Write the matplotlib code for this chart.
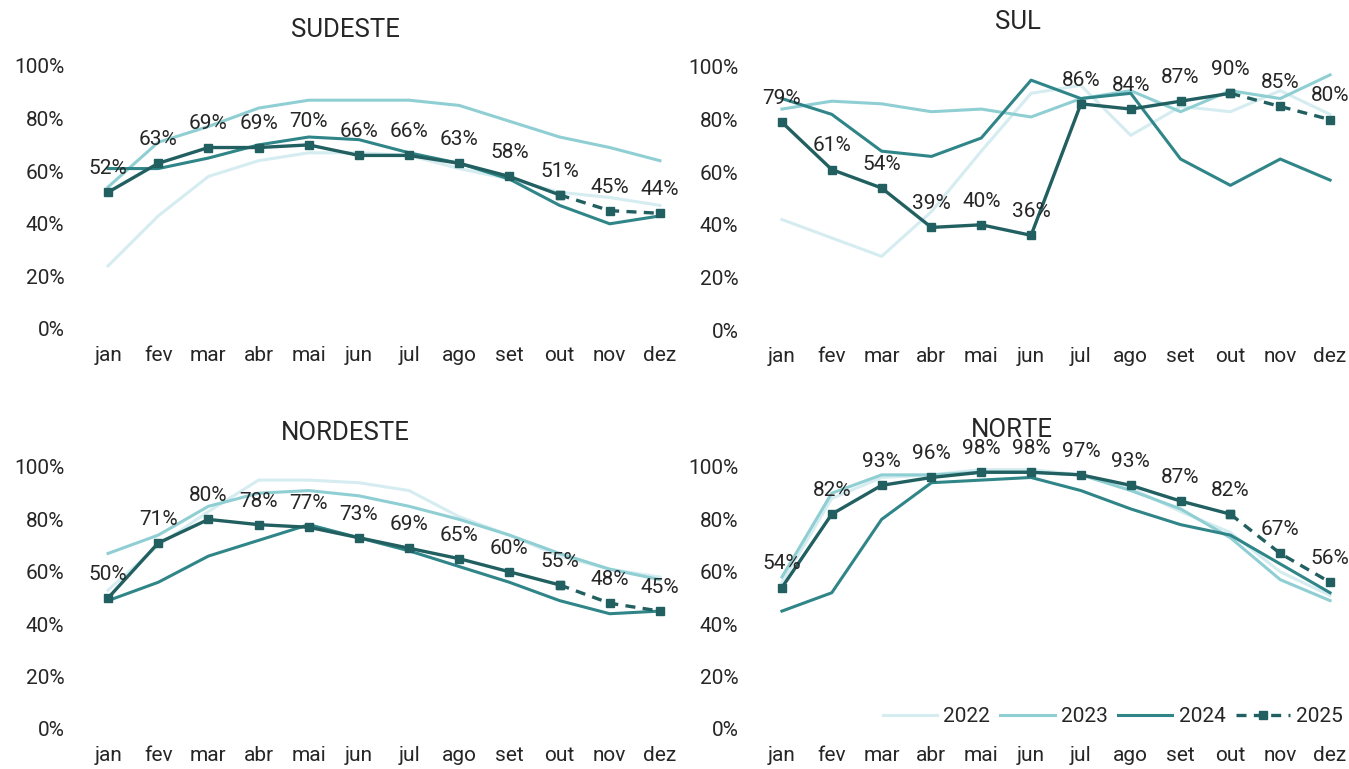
import matplotlib
matplotlib.use("Agg")
import matplotlib.pyplot as plt
from matplotlib.lines import Line2D

plt.rcParams['font.family'] = ['Roboto', 'DejaVu Sans']

months = ['jan', 'fev', 'mar', 'abr', 'mai', 'jun', 'jul', 'ago', 'set', 'out', 'nov', 'dez']
years = ['2022', '2023', '2024', '2025']

# SUDESTE
se_2022 = [24, 43, 58, 64, 67, 67, 66, 61, 57, 52, 50, 47]
se_2023 = [54, 71, 77, 84, 87, 87, 87, 85, 79, 73, 69, 64]
se_2024 = [61, 61, 65, 70, 73, 72, 67, 63, 57, 47, 40, 43]
se_2025 = [52, 63, 69, 69, 70, 66, 66, 63, 58, 51, 45, 44]

# SUL
s_2022 = [42, 35, 28, 45, 68, 90, 93, 74, 85, 83, 91, 82]
s_2023 = [84, 87, 86, 83, 84, 81, 88, 91, 83, 91, 88, 97]
s_2024 = [88, 82, 68, 66, 73, 95, 88, 90, 65, 55, 65, 57]
s_2025 = [79, 61, 54, 39, 40, 36, 86, 84, 87, 90, 85, 80]

# NORDESTE
ne_2022 = [53, 70, 83, 95, 95, 94, 91, 81, 74, 66, 61, 58]
ne_2023 = [67, 74, 85, 90, 91, 89, 85, 80, 74, 67, 61, 57]
ne_2024 = [49, 56, 66, 72, 78, 73, 68, 62, 56, 49, 44, 45]
ne_2025 = [50, 71, 80, 78, 77, 73, 69, 65, 60, 55, 48, 45]

# NORTE
n_2022 = [56, 88, 96, 97, 99, 99, 97, 92, 83, 75, 60, 51]
n_2023 = [58, 90, 97, 97, 98, 98, 97, 91, 84, 73, 57, 49]
n_2024 = [45, 52, 80, 94, 95, 96, 91, 84, 78, 74, 63, 52]
n_2025 = [54, 82, 93, 96, 98, 98, 97, 93, 87, 82, 67, 56]

last_actual = 9  # index of 'out': solid up to here, dashed after

colors = {'2022': '#d5ecf0', '2023': '#8fcfd3', '2024': '#2f8587', '2025': '#215f61'}
txt = '#262626'
FS = 15

fig = plt.figure(figsize=(13.49, 7.69), dpi=100)
W, H = 1349, 769

def ax_rect(left, right, top_px, bottom_px):
    return [left / W, 1 - bottom_px / H, (right - left) / W, (bottom_px - top_px) / H]

panels = [
    ('SUDESTE', ax_rect(88, 680, 66, 329), (345, 30), [se_2022, se_2023, se_2024, se_2025]),
    ('SUL', ax_rect(762, 1350, 67, 330), (1018, 22), [s_2022, s_2023, s_2024, s_2025]),
    ('NORDESTE', ax_rect(88, 680, 467, 729), (345, 433), [ne_2022, ne_2023, ne_2024, ne_2025]),
    ('NORTE', ax_rect(762, 1350, 467, 729), (1012, 430), [n_2022, n_2023, n_2024, n_2025]),
]

x = list(range(len(months)))
for title, rect, tpos, series in panels:
    ax = fig.add_axes(rect)
    ax.set_xlim(-0.4, 11.4)
    ax.set_ylim(0, 100)
    for sp in ax.spines.values():
        sp.set_visible(False)
    ax.set_xticks(x)
    ax.set_xticklabels(months)
    ax.set_yticks([0, 20, 40, 60, 80, 100])
    ax.set_yticklabels([f'{v}%' for v in [0, 20, 40, 60, 80, 100]])
    ax.tick_params(axis='both', length=0, labelsize=FS, colors=txt)
    ax.tick_params(axis='x', pad=12)
    ax.tick_params(axis='y', pad=17)
    for yr, vals in zip(years[:3], series[:3]):
        ax.plot(x, vals, color=colors[yr], lw=2.2, clip_on=False, zorder=2)
    v25 = series[3]
    c = colors['2025']
    ax.plot(x[:last_actual + 1], v25[:last_actual + 1], color=c, lw=2.4,
            marker='s', ms=6, clip_on=False, zorder=4)
    ax.plot(x[last_actual:], v25[last_actual:], color=c, lw=2.4, ls=(0, (3, 2.2)),
            marker='s', ms=6, clip_on=False, zorder=4)
    for xi, v in zip(x, v25):
        ax.annotate(f'{v}%', (xi, v), xytext=(0, 17), textcoords='offset points',
                    ha='center', va='center', fontsize=FS, color=txt, zorder=5,
                    annotation_clip=False)
    fig.text(tpos[0] / W, 1 - tpos[1] / H, title, ha='center', va='center',
             fontsize=18.5, color=txt)
    if title == 'NORTE':
        handles = [Line2D([], [], color=colors[y], lw=2.2) for y in years[:3]]
        handles.append(Line2D([], [], color=colors['2025'], lw=2.4, ls=(0, (3, 2.2)),
                              marker='s', ms=6))
        leg = ax.legend(handles, years, loc='lower right', ncol=4, frameon=False,
                        fontsize=FS, handlelength=2.6, columnspacing=0.5,
                        handletextpad=0.3, bbox_to_anchor=(1.02, -0.06),
                        labelcolor=txt)

fig.savefig('out.png', dpi=100, facecolor='white')
